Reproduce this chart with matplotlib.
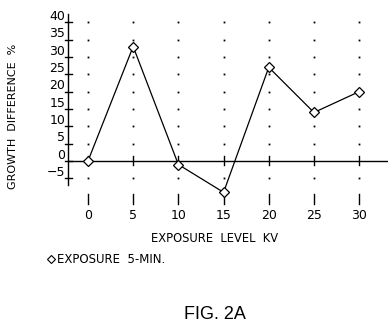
import matplotlib
matplotlib.use("Agg")
import matplotlib.pyplot as plt

kv = [0, 5, 10, 15, 20, 25, 30]
growth_diff = [0, 33, -1, -9, 27, 14, 20]
y_ticks = [-5, 0, 5, 10, 15, 20, 25, 30, 35, 40]
x_label = "EXPOSURE  LEVEL  KV"
y_label = "GROWTH  DIFFERENCE  %"
legend_label = "EXPOSURE  5-MIN."
title = "FIG. 2A"

fig = plt.figure(figsize=(3.88, 3.35), dpi=100)
ax = fig.add_axes([0, 0, 1, 1])
ax.set_xlim(-9.73, 33.19)
ax.set_ylim(-50.1, 46.4)
ax.axis("off")

font = "DejaVu Sans"
fs = 8.5
yaxis_x = -2.2
# y axis
ax.plot([yaxis_x, yaxis_x], [42.5, -7.0], color="black", lw=1.0)
for t in y_ticks:
    ax.plot([yaxis_x - 0.35, yaxis_x + 0.45], [t, t], color="black", lw=1.0)
    ax.text(yaxis_x - 0.3, t + 1.7, str(t).replace("-", "\u2212"), ha="right", va="center",
            fontsize=9, family=font)
# zero line
ax.plot([yaxis_x, 33.19], [0, 0], color="black", lw=1.0)
for x in kv:
    ax.plot([x, x], [-1.2, 1.4], color="black", lw=1.0)
    # dotted grid
    for t in y_ticks:
        if t != 0:
            ax.plot([x], [t], marker="s", ms=1.3, color="black", mec="none")
    # bottom ticks
    ax.plot([x, x], [-9.5, -12.3], color="black", lw=1.0)
    ax.text(x, -15.8, str(x), ha="center", va="center", fontsize=9, family=font)

ax.plot(kv, growth_diff, color="black", lw=0.9, marker="D", ms=5, mfc="white",
        mec="black", mew=0.9, zorder=5)

ax.text(14.0, -22.3, x_label, ha="center", va="center", fontsize=8.3, family=font)
ax.text(-8.3, 13.0, y_label, ha="center", va="center", rotation=90, fontsize=8.0, family=font)
ax.plot([-4.1], [-28.3], marker="D", ms=3.6, mfc="white", mec="black", mew=0.8)
ax.text(-3.4, -28.3, legend_label, ha="left", va="center", fontsize=fs, family=font)
ax.text(14.0, -44.3, title, ha="center", va="center", fontsize=13, family="Liberation Sans")

fig.savefig("out.png", dpi=100)
